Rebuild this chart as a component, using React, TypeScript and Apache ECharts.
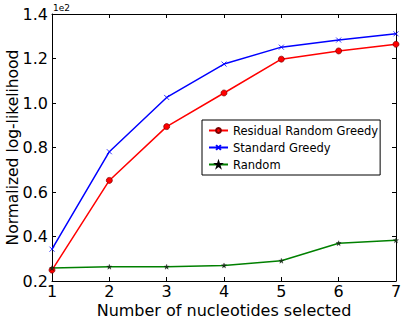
import React, { useEffect, useRef } from "react";
import * as echarts from "echarts";

const xValues = [1, 2, 3, 4, 5, 6, 7];
const residualRandomGreedy = [24.9, 65.2, 89.4, 104.5, 119.7, 123.4, 126.4];
const standardGreedy = [34.3, 78.1, 102.5, 117.5, 125.1, 128.3, 131.1];
const randomSel = [25.8, 26.4, 26.4, 27.0, 29.1, 37.0, 38.3];
const seriesNames = ["Residual Random Greedy", "Standard Greedy", "Random"];

const FONT = "DejaVu Sans";
const X_MARK = "path://M0,0L10,10M10,0L0,10";
const STAR =
  "path://M5,0L6.2,3.6L10,3.6L6.9,5.8L8.1,9.5L5,7.2L1.9,9.5L3.1,5.8L0,3.6L3.8,3.6Z";

function pairs(ys: number[]) {
  return xValues.map((x, i) => [x, ys[i]]);
}

export default function App() {
  const ref = useRef<HTMLDivElement>(null);
  useEffect(() => {
    if (!ref.current) return;
    const chart = echarts.init(ref.current, null, { renderer: "svg" });
    const tickStyle = { inside: true, length: 4, lineStyle: { color: "#000", width: 1 } };
    const lineStyleAxis = { show: true, lineStyle: { color: "#000", width: 1 } };
    chart.setOption({
      animation: false,
      backgroundColor: "#fff",
      textStyle: { fontFamily: FONT },
      grid: {
        left: 52,
        right: 11,
        top: 14,
        bottom: 43,
        containLabel: false,
        outerBoundsMode: "none",
      },
      legend: {
        orient: "vertical",
        left: 202,
        top: 120,
        data: seriesNames,
        backgroundColor: "#fff",
        borderColor: "#000",
        borderWidth: 1,
        borderRadius: 0,
        padding: [4, 2, 4, 6],
        itemWidth: 19,
        itemHeight: 6,
        itemGap: 4,
        textStyle: { fontFamily: FONT, fontSize: 11.5, color: "#000", lineHeight: 13 },
      },
      graphic: [
        {
          type: "text",
          left: 53,
          top: 3,
          style: { text: "1e2", fontFamily: FONT, fontSize: 9, fill: "#000" },
        },
      ],
      xAxis: [
        {
          type: "value",
          min: 1,
          max: 7,
          interval: 1,
          name: "Number of nucleotides selected",
          nameLocation: "middle",
          nameGap: 21,
          nameMoveOverlap: false,
          nameTextStyle: { fontFamily: FONT, fontSize: 16, color: "#000" },
          axisLine: lineStyleAxis,
          axisTick: tickStyle,
          axisLabel: { fontFamily: FONT, fontSize: 16, color: "#000", margin: 2 },
          splitLine: { show: false },
        },
        {
          type: "value",
          min: 1,
          max: 7,
          interval: 1,
          position: "top",
          axisLine: lineStyleAxis,
          axisTick: tickStyle,
          axisLabel: { show: false },
          splitLine: { show: false },
        },
      ],
      yAxis: [
        {
          type: "value",
          min: 20,
          max: 140,
          interval: 20,
          name: "Normalized log-likelihood",
          nameLocation: "middle",
          nameGap: 31,
          nameMoveOverlap: false,
          nameTextStyle: { fontFamily: FONT, fontSize: 15.5, color: "#000" },
          axisLine: lineStyleAxis,
          axisTick: tickStyle,
          axisLabel: {
            fontFamily: FONT,
            fontSize: 16,
            color: "#000",
            margin: 4,
            formatter: (v: number) => (v / 100).toFixed(1),
          },
          splitLine: { show: false },
        },
        {
          type: "value",
          min: 20,
          max: 140,
          interval: 20,
          position: "right",
          axisLine: lineStyleAxis,
          axisTick: tickStyle,
          axisLabel: { show: false },
          splitLine: { show: false },
        },
      ],
      series: [
        {
          name: seriesNames[0],
          type: "line",
          data: pairs(residualRandomGreedy),
          symbol: "circle",
          symbolSize: 6,
          itemStyle: { color: "#ff0000", borderColor: "#7a0000", borderWidth: 0.7 },
          lineStyle: { color: "#ff0000", width: 1.5 },
          z: 3,
        },
        {
          name: seriesNames[1],
          type: "line",
          data: pairs(standardGreedy),
          symbol: X_MARK,
          symbolSize: 5,
          itemStyle: { color: "#0000ff", borderColor: "#0000ff", borderWidth: 0.8 },
          lineStyle: { color: "#0000ff", width: 1.5 },
          z: 3,
        },
        {
          name: seriesNames[2],
          type: "line",
          data: pairs(randomSel),
          symbol: STAR,
          symbolSize: 5,
          itemStyle: { color: "#1a3a1a", borderColor: "#000", borderWidth: 0.3 },
          lineStyle: { color: "#008000", width: 1.5 },
          z: 3,
        },
      ],
    });
    return () => chart.dispose();
  }, []);
  return <div ref={ref} style={{ width: 407, height: 324, position: "absolute", left: 0, top: 0 }} />;
}
